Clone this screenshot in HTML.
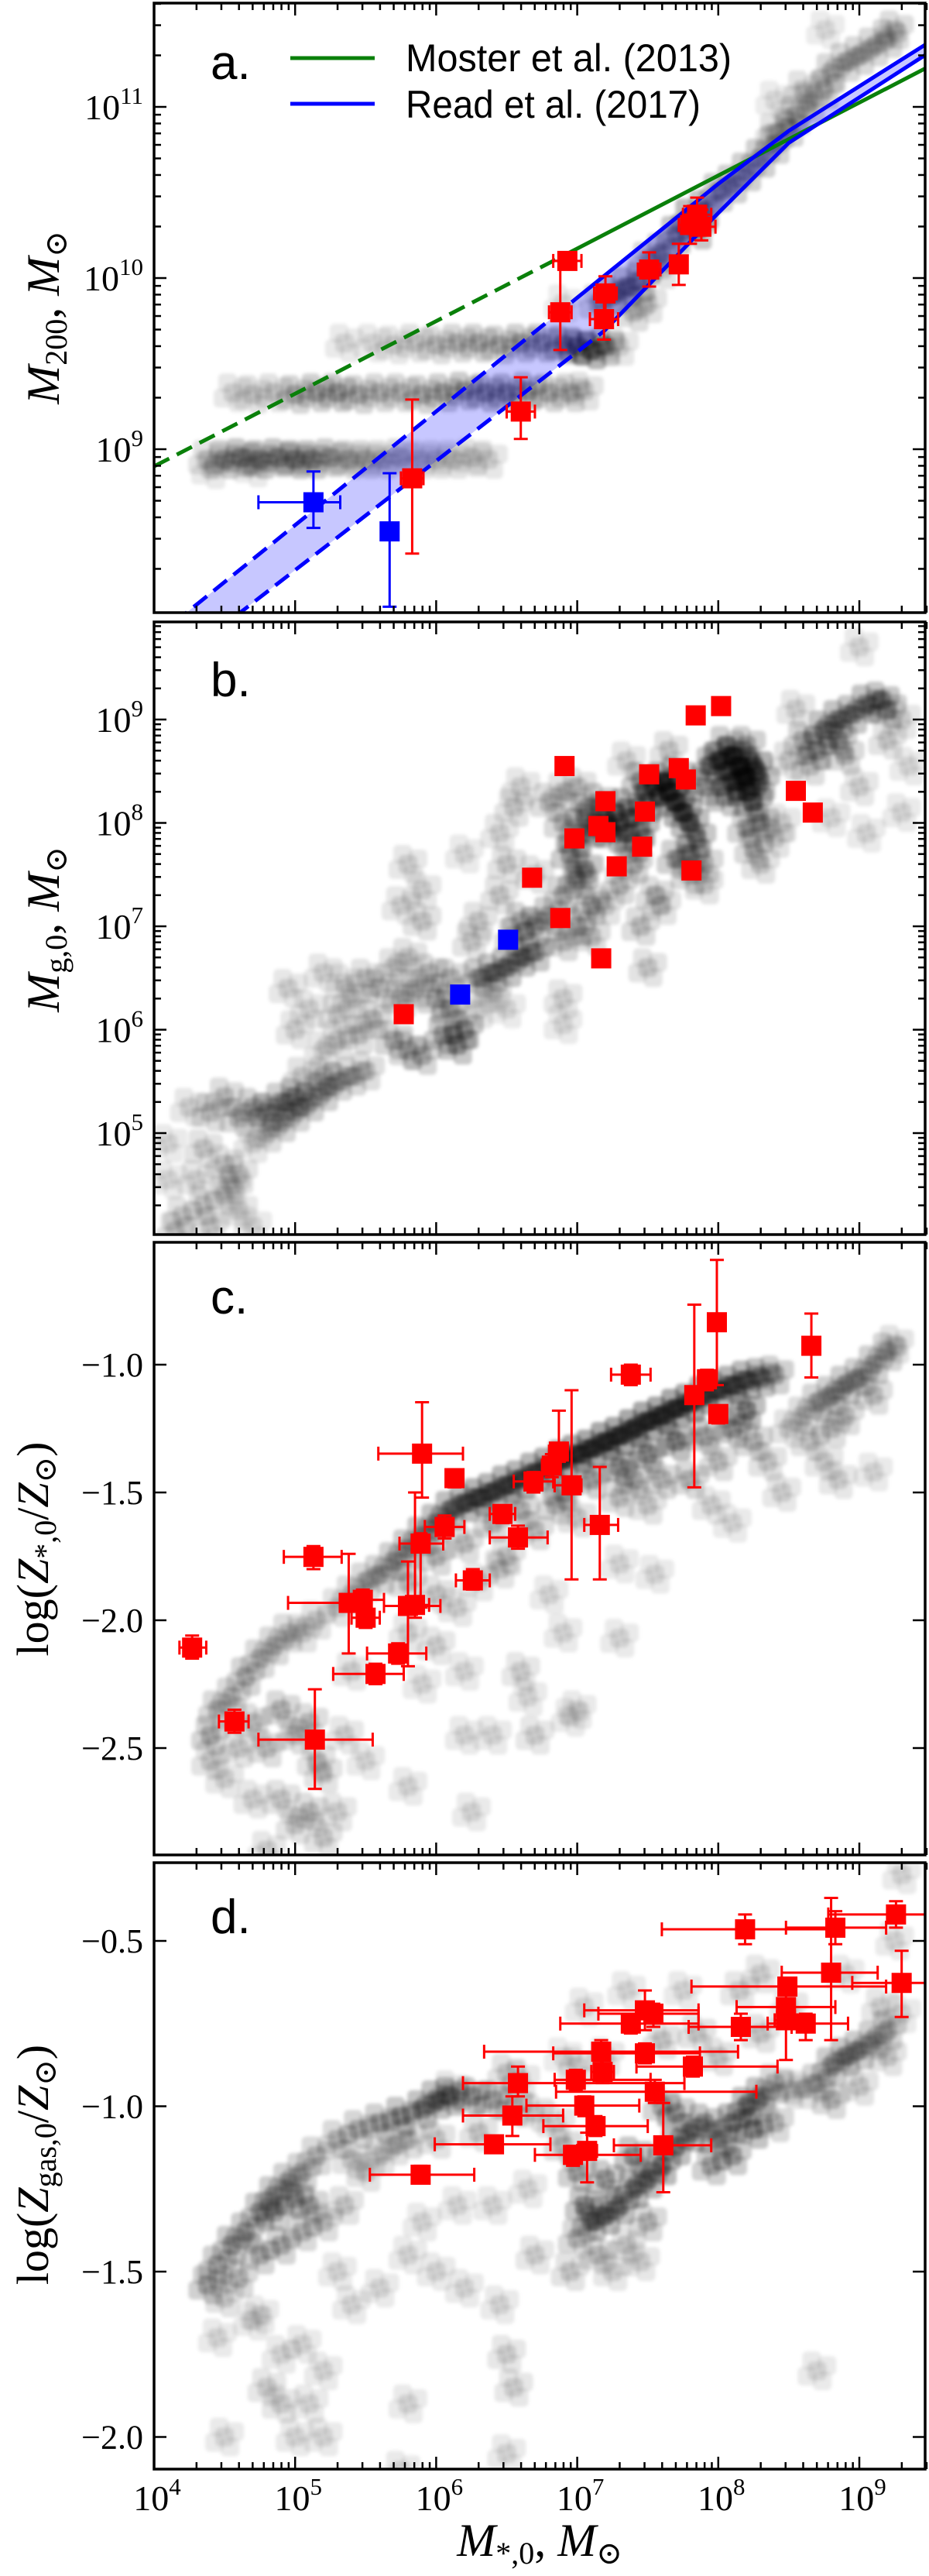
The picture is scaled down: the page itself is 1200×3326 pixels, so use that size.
<!DOCTYPE html>
<html><head><meta charset="utf-8">
<style>
html,body{margin:0;padding:0;background:#fff;}
svg{display:block;}
text{font-family:"Liberation Serif","DejaVu Serif",serif;}
.sans{font-family:"Liberation Sans","DejaVu Sans",sans-serif;}
</style></head>
<body>
<svg id="fig" xmlns="http://www.w3.org/2000/svg" width="1200" height="3326" viewBox="0 0 1200 3326"></svg>
<script>
// ===== DATA =====
const xTickExps = [4,5,6,7,8,9];
const yTicksA = [9,10,11];
const yTicksB = [5,6,7,8,9];
const yTicksC = [-1.0,-1.5,-2.0,-2.5];
const yTicksD = [-0.5,-1.0,-1.5,-2.0];

const mosterX = [4.0, 6.9, 9.48];
const mosterY = [8.90, 10.13, 11.23];
const mosterBreak = 6.9;
const readUpX = [4.0, 4.23, 6.97, 8.0, 8.5, 9.48];
const readUpY = [7.89, 8.045, 9.865, 10.55, 10.86, 11.37];
const readUpBreak = 6.97;
const readLoX = [4.0, 4.61, 7.19, 8.0, 8.5, 9.48];
const readLoY = [7.656, 8.045, 9.69, 10.38, 10.79, 11.31];
const readLoBreak = 7.19;

const aRedX = [6.93,6.88,7.20,7.19,7.51,7.72,7.80,7.85,7.88,6.60,5.83];
const aRedY = [10.10,9.80,9.91,9.76,10.05,10.08,10.31,10.37,10.30,9.22,8.83];
const aRedXe = [0.1,0.08,0.08,0.1,0.08,0.06,0.08,0.1,0.1,0.1,0.08];
const aRedYlo = [10.05,9.58,9.81,9.64,9.95,9.96,10.2,10.27,10.22,9.06,8.39];
const aRedYhi = [10.15,10.1,10.01,9.88,10.15,10.2,10.42,10.47,10.4,9.42,9.29];
const aBlueX = [5.13,5.67];
const aBlueY = [8.69,8.52];
const aBlueXlo = [4.74,5.67];
const aBlueXhi = [5.32,5.67];
const aBlueYlo = [8.54,8.08];
const aBlueYhi = [8.87,8.86];

const grayA = [
[4.38,8.94,.2],[4.5,8.94,.45],[4.62,8.95,.5],[4.75,8.94,.5],[4.88,8.95,.5],[5.0,8.94,.55],[5.12,8.94,.5],[5.25,8.95,.4],[5.38,8.94,.35],[5.5,8.94,.3],[5.62,8.94,.25],[5.75,8.95,.25],[5.88,8.94,.2],[6.0,8.94,.2],[6.12,8.94,.2],[6.25,8.95,.2],[6.37,8.94,.15],[4.4,8.88,.12],[4.7,8.89,.12],
[4.56,9.33,.15],[4.7,9.32,.2],[4.85,9.33,.2],[5.0,9.32,.35],[5.15,9.33,.4],[5.3,9.33,.45],[5.45,9.32,.35],[5.6,9.33,.3],[5.75,9.33,.3],[5.9,9.32,.35],[6.05,9.33,.4],[6.2,9.34,.45],[6.35,9.33,.5],[6.5,9.33,.5],[6.65,9.34,.45],[6.8,9.33,.35],[6.95,9.33,.3],[7.05,9.34,.2],
[5.35,9.62,.12],[5.55,9.62,.12],[5.7,9.61,.15],[5.85,9.62,.2],[6.0,9.61,.25],[6.15,9.62,.3],[6.3,9.62,.35],[6.45,9.61,.35],[6.6,9.62,.4],[6.75,9.62,.45],[6.9,9.61,.5],[7.0,9.6,.6],[7.1,9.58,.7],[7.2,9.6,.5],
[7.15,9.85,.3],[7.25,9.9,.5],[7.35,9.95,.5],[7.45,9.98,.4],[7.5,10.1,.3],[7.6,10.15,.4],[7.7,10.25,.5],[7.8,10.35,.6],[7.85,10.28,.5],[7.9,10.4,.5],[8.0,10.5,.4],[8.1,10.55,.4],[8.2,10.62,.4],[8.3,10.7,.4],[8.4,10.78,.35],[8.5,10.88,.35],[8.55,10.95,.3],[8.65,11.02,.3],[8.75,11.1,.3],[8.8,11.2,.3],[8.9,11.26,.3],[9.0,11.3,.3],[9.1,11.35,.3],[9.2,11.4,.3],[9.25,11.45,.25],[7.6,10.05,.2],[7.4,9.8,.25],[8.6,11.1,.2],[8.4,10.85,.2],[8.4,11.04,.1],[8.76,11.45,.1],[7.3,9.6,.15],[7.5,9.85,.2],[6.9,9.85,.1]
];
const grayB = [
[4.1,4.9,.12],[4.25,5.25,.15],[4.4,5.2,.25],[4.5,5.35,.25],[4.6,5.15,.3],[4.7,5.25,.35],[4.8,5.2,.4],[4.9,5.3,.4],[5.0,5.35,.45],[5.1,5.3,.4],[5.2,5.4,.4],[5.3,5.5,.35],[5.4,5.55,.3],[5.5,5.6,.25],[4.9,5.1,.35],[5.0,5.2,.35],[4.8,5.0,.25],[5.2,5.55,.25],[5.05,5.55,.2],[4.35,4.85,.2],[4.5,4.7,.2],[4.6,4.6,.2],[4.5,4.4,.2],[4.35,4.3,.2],[4.2,4.2,.2],[4.4,4.1,.2],[4.6,4.25,.15],[4.55,4.5,.15],[4.7,4.9,.15],[4.3,4.55,.15],[4.15,4.05,.2],[4.7,4.1,.12],[4.1,4.55,.12],
[5.2,5.8,.15],[5.3,5.9,.2],[5.45,5.95,.25],[5.55,6.1,.3],[5.7,5.9,.35],[5.8,5.8,.3],[5.9,5.75,.35],[6.05,5.95,.45],[6.2,6.0,.5],[6.15,5.85,.5],[6.1,6.2,.4],[6.0,6.3,.35],[5.85,6.4,.3],[5.75,6.3,.3],[5.6,6.4,.25],[5.5,6.5,.2],[5.4,6.3,.2],[5.3,6.15,.2],[5.1,6.2,.15],[5.0,6.0,.15],[4.95,6.4,.15],[5.2,6.55,.15],[5.35,6.45,.15],[5.7,6.6,.2],[5.8,6.7,.2],[5.95,6.55,.3],[6.1,6.5,.3],[6.3,6.5,.45],[6.4,6.55,.5],[6.5,6.6,.55],[6.6,6.7,.55],[6.7,6.75,.5],[6.55,6.9,.3],[6.6,7.05,.35],[6.7,7.0,.4],[6.8,7.1,.4],[6.3,7.05,.2],[6.25,6.85,.2],[6.45,7.3,.2],[5.9,7.05,.2],[5.75,7.2,.15],[5.9,7.35,.15],[5.8,7.6,.15],[6.2,7.7,.12],[6.5,7.6,.2],[6.7,7.5,.2],[6.55,8.15,.2],[6.6,8.35,.15],[6.45,7.9,.15],[6.3,6.2,.15],[6.4,6.35,.2],[6.9,6.3,.15],[6.5,6.2,.12],[6.9,6.05,.12],
[6.9,7.3,.35],[7.0,7.45,.45],[7.05,7.55,.5],[6.95,7.7,.45],[7.0,7.85,.5],[7.1,7.95,.55],[7.2,8.05,.6],[7.25,7.9,.6],[7.3,8.0,.65],[7.35,8.15,.6],[7.15,8.2,.45],[7.05,8.1,.4],[6.9,8.0,.3],[6.8,8.2,.25],[6.9,8.3,.2],[7.0,8.35,.2],[7.1,7.2,.4],[7.0,7.0,.35],[6.9,6.85,.3],[7.1,6.9,.25],[7.2,7.2,.2],[7.4,7.6,.35],[7.4,7.8,.5],[7.45,7.95,.6],[7.3,7.4,.3],[7.45,7.0,.25],[7.5,6.6,.2],[7.55,7.3,.25],[7.5,8.2,.6],[7.55,8.35,.6],[7.45,8.4,.45],[7.6,8.4,.7],[7.65,8.3,.75],[7.7,8.2,.75],[7.75,8.1,.7],[7.8,8.0,.6],[7.85,7.85,.5],[7.8,7.7,.45],[7.7,7.65,.4],[7.9,7.6,.3],[7.8,7.5,.3],[7.7,8.45,.5],[7.9,8.35,.5],[7.95,8.55,.5],[8.0,8.6,.7],[8.1,8.65,.8],[8.15,8.55,.85],[8.2,8.45,.85],[8.25,8.55,.75],[8.1,8.4,.8],[8.2,8.3,.75],[8.25,8.2,.6],[8.05,8.25,.5],[8.3,8.4,.5],[8.3,8.0,.4],[8.2,7.95,.35],[8.25,7.75,.3],[8.3,7.6,.2],[8.4,7.85,.2],[8.05,8.75,.4],[8.2,8.75,.4],[7.65,8.7,.2],[7.35,8.6,.15],[7.9,7.4,.2],[7.6,7.2,.2],
[8.5,8.6,.2],[8.6,8.8,.35],[8.7,8.7,.45],[8.75,8.9,.55],[8.85,9.0,.55],[8.95,9.05,.5],[9.05,9.15,.55],[9.15,9.18,.5],[9.2,9.1,.4],[8.85,8.8,.4],[8.9,8.65,.3],[8.65,8.55,.25],[8.55,9.1,.15],[9.0,8.35,.15],[9.3,9.0,.15],[9.35,8.55,.12],[9.05,7.9,.12],[8.8,8.05,.12],[9.3,8.1,.12],[9.0,9.7,.12],[9.2,8.8,.2],[8.45,8.0,.15]
];
const grayC = [
[4.4,-2.45,.35],[4.45,-2.35,.3],[4.55,-2.3,.3],[4.65,-2.22,.35],[4.75,-2.15,.3],[4.85,-2.1,.3],[4.95,-2.05,.25],[5.05,-2.05,.2],[5.15,-2.0,.2],[4.4,-2.55,.2],[4.5,-2.62,.15],[4.7,-2.4,.25],[4.8,-2.5,.25],[4.9,-2.35,.3],[5.0,-2.45,.25],[5.1,-2.4,.25],[5.2,-2.6,.2],[4.9,-2.7,.2],[5.0,-2.8,.2],[5.1,-2.75,.25],[5.2,-2.85,.2],[4.8,-2.9,.15],[5.3,-2.75,.15],[5.35,-2.45,.15],[5.4,-2.2,.15],[5.5,-2.55,.12],[4.7,-2.7,.15],[5.15,-2.55,.2],[4.6,-2.5,.2],
[5.3,-1.95,.2],[5.4,-1.9,.25],[5.5,-1.85,.3],[5.6,-1.82,.35],[5.7,-1.77,.4],[5.8,-1.72,.45],[5.9,-1.67,.5],[6.0,-1.62,.55],[6.1,-1.57,.6],[6.2,-1.54,.65],[6.3,-1.52,.7],[6.4,-1.5,.7],[6.5,-1.47,.7],[6.6,-1.45,.7],[6.7,-1.42,.7],[6.8,-1.4,.75],[6.9,-1.37,.8],[7.0,-1.35,.8],[7.1,-1.33,.85],[7.2,-1.3,.85],[7.3,-1.28,.85],[7.4,-1.25,.85],[7.5,-1.22,.85],[7.6,-1.2,.85],[7.7,-1.17,.85],[7.8,-1.15,.8],[7.9,-1.12,.7],[8.0,-1.1,.7],[8.1,-1.08,.7],[8.2,-1.06,.65],[8.3,-1.05,.55],[8.4,-1.04,.4],
[7.3,-1.4,.5],[7.5,-1.35,.55],[7.7,-1.3,.6],[7.9,-1.28,.4],[8.1,-1.25,.5],[8.2,-1.18,.6],[7.4,-1.45,.35],[7.1,-1.45,.4],[6.9,-1.5,.35],[6.6,-1.57,.3],[6.4,-1.62,.3],[6.2,-1.7,.25],[6.0,-1.75,.3],[5.8,-1.85,.25],[7.6,-1.45,.3],[7.8,-1.45,.3],[8.0,-1.38,.25],[8.25,-1.3,.3],[8.35,-1.38,.2],[7.5,-1.55,.2],[7.0,-1.6,.2],[6.7,-1.65,.25],[6.5,-1.75,.2],[7.3,-1.52,.25],[6.85,-1.55,.3],
[8.5,-1.25,.2],[8.6,-1.2,.25],[8.7,-1.15,.35],[8.8,-1.12,.4],[8.9,-1.08,.45],[9.0,-1.05,.4],[9.1,-1.0,.4],[9.2,-0.95,.35],[9.25,-0.92,.2],[8.8,-1.25,.25],[8.9,-1.2,.25],[9.1,-1.12,.25],[8.65,-1.3,.2],[8.75,-1.38,.15],[8.85,-1.45,.15],[9.1,-1.42,.12],[8.45,-1.5,.15],[8.1,-1.62,.12],[7.95,-1.55,.15],
[5.8,-2.05,.15],[6.0,-2.1,.15],[5.9,-2.25,.12],[6.2,-2.2,.12],[6.6,-2.2,.15],[6.65,-2.3,.12],[6.9,-2.05,.12],[7.0,-2.35,.12],[6.2,-2.45,.12],[6.4,-2.45,.12],[6.7,-2.45,.15],[6.95,-2.38,.12],[7.3,-2.07,.12],[6.8,-1.9,.12],[6.0,-1.9,.2],[6.15,-1.95,.15],[6.45,-1.8,.2],[6.3,-1.85,.15],[7.3,-1.78,.12],[7.55,-1.82,.12],[6.25,-2.75,.12],[5.8,-2.65,.12]
];
const grayD = [
[4.38,-1.54,.4],[4.45,-1.48,.4],[4.55,-1.42,.45],[4.65,-1.38,.45],[4.75,-1.32,.45],[4.85,-1.27,.45],[4.95,-1.23,.4],[5.05,-1.2,.35],[5.15,-1.15,.3],[5.3,-1.1,.3],[5.45,-1.07,.35],[5.6,-1.05,.4],[5.75,-1.03,.5],[5.9,-1.01,.55],[6.0,-0.98,.55],[6.1,-0.97,.55],[6.25,-0.97,.5],[6.4,-0.98,.4],[6.55,-1.0,.3],[4.6,-1.52,.3],[4.75,-1.45,.35],[4.9,-1.42,.35],[5.05,-1.38,.3],[5.2,-1.35,.25],[5.35,-1.3,.2],[4.85,-1.32,.4],[5.0,-1.28,.35],[5.1,-1.3,.35],[4.5,-1.58,.2],[5.5,-1.2,.2],[5.6,-1.15,.2],[5.8,-1.1,.25],[5.7,-1.12,.2],[6.0,-1.1,.2],[6.3,-1.08,.2],[5.4,-1.16,.2],[6.7,-1.02,.2],[6.85,-1.05,.15],[6.6,-0.92,.15],[6.5,-0.9,.2],[6.1,-0.95,.15],
[6.9,-1.12,.25],[7.0,-1.2,.4],[7.05,-1.3,.5],[7.1,-1.35,.55],[7.2,-1.33,.6],[7.3,-1.3,.6],[7.4,-1.25,.6],[7.5,-1.22,.6],[7.6,-1.18,.65],[7.7,-1.12,.6],[7.8,-1.08,.55],[7.9,-1.05,.5],[8.0,-1.1,.5],[8.1,-1.05,.6],[8.2,-1.0,.6],[8.3,-0.97,.55],[8.25,-1.07,.55],[8.1,-1.15,.45],[7.95,-1.18,.4],[7.7,-1.02,.4],[7.6,-1.0,.35],[7.4,-1.15,.5],[7.2,-1.22,.45],[7.0,-1.4,.3],[7.15,-1.45,.25],[7.35,-1.42,.2],[7.5,-1.35,.3],[6.95,-1.5,.2],[7.25,-1.5,.15],[7.45,-1.47,.15],[8.4,-1.05,.3],[8.4,-0.93,.3],[8.5,-0.95,.2],[8.6,-0.95,.2],[8.7,-0.93,.35],[8.8,-0.88,.45],[8.9,-0.85,.5],[9.0,-0.83,.45],[9.1,-0.8,.4],[9.2,-0.77,.35],[8.8,-0.98,.3],[9.0,-0.94,.2],[9.2,-0.85,.2],[9.15,-0.7,.15],[9.3,-0.72,.12],[9.25,-0.5,.12],[9.3,-0.3,.12],[8.9,-0.6,.12],[8.5,-0.7,.15],[8.3,-0.78,.2],[8.15,-0.65,.15],[8.0,-0.85,.2],[7.85,-0.78,.2],[7.6,-0.8,.2],[7.35,-0.65,.12],[7.05,-0.7,.12],[7.2,-0.85,.15],[7.0,-0.88,.15],[7.75,-0.65,.12],[8.3,-0.6,.15],[6.9,-0.85,.1],
[4.45,-1.7,.12],[4.7,-1.65,.12],[4.9,-1.75,.12],[5.05,-1.72,.12],[5.2,-1.8,.12],[5.4,-1.6,.12],[5.6,-1.55,.12],[5.3,-1.5,.12],[5.8,-1.45,.12],[6.0,-1.5,.12],[6.2,-1.55,.12],[6.45,-1.6,.12],[6.5,-1.75,.15],[6.55,-1.85,.15],[6.65,-1.25,.12],[6.7,-1.45,.15],[6.4,-1.3,.12],[4.5,-2.0,.12],[4.8,-1.85,.15],[5.1,-1.9,.12],[5.2,-2.0,.12],[5.75,-2.1,.12],[5.8,-1.9,.12],[6.5,-2.05,.12],[5.0,-2.0,.12],[6.15,-1.3,.12],[5.9,-1.35,.12],[4.9,-1.9,.15],[8.7,-1.8,.12],[4.75,-1.63,.12]
];

const bRedX = [6.91,7.84,8.02,7.51,7.72,7.77,7.20,7.48,7.15,7.20,6.98,7.46,7.28,7.81,6.68,6.88,7.17,5.77,8.55,8.67];
const bRedY = [8.55,9.04,9.13,8.47,8.53,8.42,8.21,8.11,7.97,7.91,7.85,7.77,7.58,7.54,7.47,7.08,6.69,6.15,8.31,8.10];
const bBlueX = [6.51,6.17];
const bBlueY = [6.87,6.34];

const cX   = [4.27,4.57,5.14,5.13,5.38,5.48,5.50,5.80,5.85,5.73,5.57,5.89,5.90,6.06,6.13,6.26,6.47,6.58,6.69,6.82,6.87,6.96,7.16,7.38,7.83,7.92,7.99,8.00,8.66];
const cY   = [-2.107,-2.396,-2.467,-1.752,-1.932,-1.92,-1.99,-1.944,-1.94,-2.13,-2.21,-1.70,-1.348,-1.635,-1.444,-1.844,-1.584,-1.676,-1.457,-1.395,-1.34,-1.472,-1.627,-1.039,-1.119,-1.057,-0.834,-1.193,-0.926];
const cXlo = [4.18,4.46,4.74,4.92,4.95,5.33,5.40,5.63,5.75,5.51,5.27,5.74,5.59,5.92,6.08,6.14,6.38,6.38,6.55,6.75,6.80,6.84,7.05,7.24,7.78,7.87,7.94,7.95,8.60];
const cXhi = [4.37,4.67,5.55,5.33,5.44,5.63,5.60,6.03,5.95,5.93,5.77,6.05,6.19,6.20,6.18,6.38,6.56,6.79,6.83,6.88,6.92,7.03,7.29,7.52,7.88,7.97,8.04,8.05,8.72];
const cYlo = [-2.15,-2.44,-2.66,-1.80,-2.13,-1.96,-2.03,-2.18,-1.99,-2.17,-2.25,-1.95,-1.52,-1.68,-1.48,-1.88,-1.62,-1.72,-1.50,-1.44,-1.38,-1.84,-1.84,-1.08,-1.48,-1.10,-1.08,-1.23,-1.05];
const cYhi = [-2.06,-2.35,-2.27,-1.71,-1.74,-1.88,-1.95,-1.77,-1.50,-2.09,-2.17,-1.66,-1.147,-1.59,-1.41,-1.80,-1.55,-1.63,-1.42,-1.35,-1.18,-1.10,-1.40,-1.00,-0.765,-1.02,-0.59,-1.16,-0.80];

const dX   = [9.26,8.83,8.19,8.80,9.30,8.49,8.48,8.48,8.62,8.16,7.48,7.54,7.38,7.48,7.17,7.18,7.82,6.99,6.58,7.55,7.05,6.54,7.13,6.41,6.97,7.07,7.61,5.89];
const dY   = [-0.42,-0.46,-0.465,-0.596,-0.627,-0.638,-0.70,-0.74,-0.75,-0.76,-0.71,-0.72,-0.75,-0.84,-0.835,-0.896,-0.88,-0.92,-0.93,-0.956,-0.998,-1.028,-1.06,-1.115,-1.147,-1.135,-1.118,-1.207];
const dXlo = [8.78,8.48,7.60,8.45,8.95,7.81,8.13,8.40,8.35,7.79,7.05,7.15,6.88,6.83,6.34,7.10,7.42,6.84,6.19,6.85,6.64,6.19,6.76,5.99,6.70,7.00,7.26,5.53];
const dXhi = [9.60,9.19,8.78,9.13,9.60,9.19,8.83,8.56,8.92,8.52,7.86,7.86,7.86,7.87,8.14,7.26,8.42,7.52,7.76,8.27,7.44,6.90,7.50,6.81,7.45,7.14,7.95,6.27];
const dYlo = [-0.46,-0.51,-0.51,-0.80,-0.73,-0.66,-0.72,-0.86,-0.80,-0.80,-0.77,-0.76,-0.78,-0.87,-0.87,-0.93,-0.91,-0.95,-0.97,-0.99,-1.03,-1.09,-1.09,-1.14,-1.18,-1.23,-1.26,-1.23];
const dYhi = [-0.38,-0.41,-0.42,-0.37,-0.53,-0.62,-0.68,-0.62,-0.72,-0.72,-0.65,-0.69,-0.72,-0.81,-0.80,-0.86,-0.85,-0.89,-0.88,-0.92,-0.97,-0.97,-1.03,-1.09,-1.12,-1.08,-0.99,-1.18];

// ===== AXES =====
const L = 199, R = 1195;
const X = lx => L + (lx - 4) * 182.2;
const panels = {
  a: {top:4, bot:791, y: v => 138 + (11 - v) * 221},
  b: {top:803, bot:1594, y: v => 1196 + (7 - v) * 133.5},
  c: {top:1604, bot:2395, y: v => 1762 + (-1 - v) * 330},
  d: {top:2405, bot:3188, y: v => 2506 + (-0.5 - v) * 427}
};
const NS = 'http://www.w3.org/2000/svg';
const svg = document.getElementById('fig');
function el(tag, attrs, parent) {
  const e = document.createElementNS(NS, tag);
  for (const k in attrs) e.setAttribute(k, attrs[k]);
  (parent || svg).appendChild(e);
  return e;
}
const defs = el('defs', {});
const blur = el('filter', {id: 'soft', x: '-10%', y: '-10%', width: '120%', height: '120%'}, defs);
el('feGaussianBlur', {stdDeviation: 2}, blur);
for (const k in panels) {
  const p = panels[k];
  const cp = el('clipPath', {id: 'clip-' + k}, defs);
  el('rect', {x: L, y: p.top, width: R - L, height: p.bot - p.top}, cp);
}

function panelGroup(k) {
  const g = el('g', {'clip-path': 'url(#clip-' + k + ')'});
  
  
  return g;
}

// marker spread pattern (px) used to render each simulation point as a soft cluster
const spread = [[0,0],[-13,7],[13,-7],[7,13],[-7,-13]];
function drawGray(k, arr) {
  const p = panels[k];
  const g = panelGroup(k);
  
  const inner = el('g', {filter: 'url(#soft)'}, g);
  arr.forEach(pt => {
    const cx = X(pt[0]), cy = p.y(pt[1]);
    spread.forEach((o, j) => {
      const r = el('rect', {x: cx + o[0] - 12, y: cy + o[1] - 12, width: 24, height: 24, rx: 6, fill: '#000', 'fill-opacity': Math.min(0.6, pt[2] * (j ? 0.35 : 0.55) + 0.04)}, inner);
      
      
    });
  });
}

function pathFrom(xs, ys, yf, from, to) {
  let d = '';
  const out = [];
  for (let i = 0; i < xs.length - 1; i++) {
    const x0 = xs[i], y0 = ys[i], x1 = xs[i + 1], y1 = ys[i + 1];
    const a = Math.max(x0, from), b = Math.min(x1, to);
    if (a >= b) continue;
    const f = t => y0 + (y1 - y0) * (t - x0) / (x1 - x0);
    if (!out.length) out.push([a, f(a)]);
    out.push([b, f(b)]);
  }
  out.forEach((q, i) => { d += (i ? 'L' : 'M') + X(q[0]).toFixed(1) + ',' + yf(q[1]).toFixed(1); });
  return d;
}

function ticks(k, yMajor, minorFn) {
  const p = panels[k];
  const g = el('g', {stroke: '#000', 'stroke-width': 2.5});
  
  
  for (let e = 4; e <= 9; e++) {
    for (let m = 1; m <= 9; m++) {
      const lx = e + Math.log10(m);
      if (lx > 9.48) continue;
      const len = m === 1 ? 16 : 9;
      const x = X(lx);
      el('line', {x1: x, x2: x, y1: p.bot, y2: p.bot - len}, g);
      el('line', {x1: x, x2: x, y1: p.top, y2: p.top + len}, g);
    }
  }
  yMajor.forEach(v => {
    const y = p.y(v);
    el('line', {x1: L, x2: L + 16, y1: y, y2: y}, g);
    el('line', {x1: R, x2: R - 16, y1: y, y2: y}, g);
  });
  if (minorFn) minorFn().forEach(v => {
    const y = p.y(v);
    if (y < p.top || y > p.bot) return;
    el('line', {x1: L, x2: L + 9, y1: y, y2: y}, g);
    el('line', {x1: R, x2: R - 9, y1: y, y2: y}, g);
  });
  const fr = el('rect', {x: L, y: p.top, width: R - L, height: p.bot - p.top, fill: 'none', stroke: '#000', 'stroke-width': 3.5});
  
  
}
function logMinors(lo, hi) {
  const out = [];
  for (let e = lo; e <= hi; e++) for (let m = 2; m <= 9; m++) out.push(e + Math.log10(m));
  return out;
}

function powLabel(x, y, base, exp, anchor, name) {
  const t = el('text', {x: x, y: y, 'font-size': 46, 'text-anchor': anchor, fill: '#000'});
  
  
  const a = el('tspan', {}, t); a.textContent = base;
  const b = el('tspan', {'font-size': 31, dy: -20}, t); b.textContent = exp;
  return t;
}
function plainLabel(x, y, s, name) {
  const t = el('text', {x: x, y: y, 'font-size': 44, 'text-anchor': 'end', fill: '#000'});
  
  
  t.textContent = s;
}

function errBar(g, x1, y1, x2, y2, color, horiz) {
  el('line', {x1, y1, x2, y2, stroke: color, 'stroke-width': 3}, g);
  if (horiz) {
    el('line', {x1: x1, x2: x1, y1: y1 - 9, y2: y1 + 9, stroke: color, 'stroke-width': 3}, g);
    el('line', {x1: x2, x2: x2, y1: y2 - 9, y2: y2 + 9, stroke: color, 'stroke-width': 3}, g);
  } else {
    el('line', {x1: x1 - 9, x2: x1 + 9, y1: y1, y2: y1, stroke: color, 'stroke-width': 3}, g);
    el('line', {x1: x2 - 9, x2: x2 + 9, y1: y2, y2: y2, stroke: color, 'stroke-width': 3}, g);
  }
}
function marker(g, x, y, color, name) {
  const r = el('rect', {x: x - 13, y: y - 13, width: 26, height: 26, fill: color}, g);
  
  
}

// ===== PANEL A =====
drawGray('a', grayA);
(function(){
  const p = panels.a, g = panelGroup('a');
  let d = pathFrom(readUpX, readUpY, p.y, 4, 9.48);
  const lo = pathFrom(readLoX, readLoY, p.y, 4, 9.48).replace(/^M/, 'L').split('L').filter(s => s).reverse();
  d += 'L' + lo.join('L') + 'Z';
  const band = el('path', {d: d, fill: '#0000ff', 'fill-opacity': 0.22, stroke: 'none'}, g);
  
  
  const lines = [
    [mosterX, mosterY, mosterBreak, '#0a800a', 'moster-2013-line'],
    [readUpX, readUpY, readUpBreak, '#0000ff', 'read-2017-upper-line'],
    [readLoX, readLoY, readLoBreak, '#0000ff', 'read-2017-lower-line']
  ];
  lines.forEach(s => {
    const a = el('path', {d: pathFrom(s[0], s[1], p.y, 4, s[2]), fill: 'none', stroke: s[3], 'stroke-width': 5, 'stroke-dasharray': '22,11'}, g);
    
    
    const b = el('path', {d: pathFrom(s[0], s[1], p.y, s[2], 9.48), fill: 'none', stroke: s[3], 'stroke-width': 5}, g);
    
    
  });
  aRedX.forEach((v, i) => {
    const x = X(v), y = p.y(aRedY[i]);
    errBar(g, X(v - aRedXe[i]), y, X(v + aRedXe[i]), y, '#ff0000', true);
    errBar(g, x, p.y(aRedYlo[i]), x, p.y(aRedYhi[i]), '#ff0000', false);
    marker(g, x, y, '#ff0000', 'observed-galaxy-a');
  });
  aBlueX.forEach((v, i) => {
    const x = X(v), y = p.y(aBlueY[i]);
    if (aBlueXhi[i] > aBlueXlo[i]) errBar(g, X(aBlueXlo[i]), y, X(aBlueXhi[i]), y, '#0000ff', true);
    errBar(g, x, p.y(aBlueYlo[i]), x, p.y(aBlueYhi[i]), '#0000ff', false);
    marker(g, x, y, '#0000ff', 'observed-galaxy-blue-a');
  });
})();
ticks('a', yTicksA, () => logMinors(8, 11));
yTicksA.forEach(v => powLabel(185, panels.a.y(v) + 16, '10', v, 'end', 'y-tick-a-1e' + v));

(function(){
  const g = el('g', {});
  
  
  el('line', {x1: 375, x2: 484, y1: 75, y2: 75, stroke: '#0a800a', 'stroke-width': 5}, g);
  const t1 = el('text', {x: 524, y: 92, 'font-size': 50, class: 'sans', textLength: 421, lengthAdjust: 'spacingAndGlyphs'}, g);
  t1.textContent = 'Moster et al. (2013)';
  
  el('line', {x1: 375, x2: 484, y1: 134, y2: 134, stroke: '#0000ff', 'stroke-width': 5}, g);
  const t2 = el('text', {x: 524, y: 152, 'font-size': 50, class: 'sans', textLength: 381, lengthAdjust: 'spacingAndGlyphs'}, g);
  t2.textContent = 'Read et al. (2017)';
  
})();

// ===== PANEL B =====
drawGray('b', grayB);
(function(){
  const p = panels.b, g = panelGroup('b');
  bRedX.forEach((v, i) => marker(g, X(v), p.y(bRedY[i]), '#ff0000', 'observed-galaxy-b'));
  bBlueX.forEach((v, i) => marker(g, X(v), p.y(bBlueY[i]), '#0000ff', 'observed-galaxy-blue-b'));
})();
ticks('b', yTicksB, () => logMinors(4, 9));
yTicksB.forEach(v => powLabel(185, panels.b.y(v) + 16, '10', v, 'end', 'y-tick-b-1e' + v));

// ===== PANEL C & D =====
function obsPanel(k, xs, ys, xlo, xhi, ylo, yhi) {
  const p = panels[k], g = panelGroup(k);
  xs.forEach((v, i) => {
    const x = X(v), y = p.y(ys[i]);
    errBar(g, X(xlo[i]), y, X(xhi[i]), y, '#ff0000', true);
    errBar(g, x, p.y(ylo[i]), x, p.y(yhi[i]), '#ff0000', false);
    marker(g, x, y, '#ff0000', 'observed-galaxy-' + k);
  });
}
drawGray('c', grayC);
obsPanel('c', cX, cY, cXlo, cXhi, cYlo, cYhi);
ticks('c', yTicksC, null);
yTicksC.forEach(v => plainLabel(185, panels.c.y(v) + 15, '\u2212' + Math.abs(v).toFixed(1), 'y-tick-c'));

drawGray('d', grayD);
obsPanel('d', dX, dY, dXlo, dXhi, dYlo, dYhi);
ticks('d', yTicksD, null);
yTicksD.forEach(v => plainLabel(185, panels.d.y(v) + 15, '\u2212' + Math.abs(v).toFixed(1), 'y-tick-d'));

xTickExps.forEach(e => powLabel(X(e) + 4, 3241, '10', e, 'middle', 'x-tick-1e' + e));

[['a.', 102], ['b.', 899], ['c.', 1696], ['d.', 2496]].forEach(s => {
  const t = el('text', {x: 272, y: s[1], 'font-size': 62, class: 'sans'});
  t.textContent = s[0];
  
  
});
</script>
<div style="position:absolute;left:0;top:0;width:1200px;height:3326px;pointer-events:none;">
<svg width="1200" height="3326" style="position:absolute;left:0;top:0">
  <text transform="translate(76,410) rotate(-90)" text-anchor="middle" font-size="60" font-family="Liberation Serif, serif"><tspan font-style="italic">M</tspan><tspan font-size="40" dy="10">200</tspan><tspan dy="-10">,  </tspan><tspan font-style="italic">M</tspan><tspan font-size="40" dy="10">⊙</tspan></text>
  <text transform="translate(76,1200) rotate(-90)" text-anchor="middle" font-size="60" font-family="Liberation Serif, serif"><tspan font-style="italic">M</tspan><tspan font-size="40" dy="10">g,0</tspan><tspan dy="-10">,  </tspan><tspan font-style="italic">M</tspan><tspan font-size="40" dy="10">⊙</tspan></text>
  <text transform="translate(62,2000) rotate(-90)" text-anchor="middle" font-size="58" font-family="Liberation Serif, serif">log(<tspan font-style="italic">Z</tspan><tspan font-size="40" dy="10">*,0</tspan><tspan dy="-10">/</tspan><tspan font-style="italic">Z</tspan><tspan font-size="40" dy="10">⊙</tspan><tspan dy="-10">)</tspan></text>
  <text transform="translate(62,2795) rotate(-90)" text-anchor="middle" font-size="58" font-family="Liberation Serif, serif">log(<tspan font-style="italic">Z</tspan><tspan font-size="40" dy="10">gas,0</tspan><tspan dy="-10">/</tspan><tspan font-style="italic">Z</tspan><tspan font-size="40" dy="10">⊙</tspan><tspan dy="-10">)</tspan></text>
  <text x="697" y="3300" text-anchor="middle" font-size="60" font-family="Liberation Serif, serif"><tspan font-style="italic">M</tspan><tspan font-size="40" dy="10">*,0</tspan><tspan dy="-10">,  </tspan><tspan font-style="italic">M</tspan><tspan font-size="40" dy="10">⊙</tspan></text>
</svg>
</div>
</body></html>
